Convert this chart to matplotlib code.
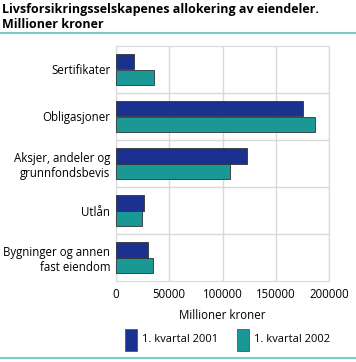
import numpy as np
import matplotlib
matplotlib.use('Agg')
import matplotlib.pyplot as plt
from matplotlib.patches import Rectangle
from matplotlib.lines import Line2D

plt.rcParams['font.family'] = ['Open Sans', 'DejaVu Sans']

kategorier = ['Sertifikater', 'Obligasjoner', 'Aksjer, andeler og\ngrunnfondsbevis',
              'Utlån', 'Bygninger og annen\nfast eiendom']
kv2001 = [17200, 176000, 123400, 25900, 29700]
kv2002 = [35300, 186600, 107500, 24000, 34700]
serier = ['1. kvartal 2001', '1. kvartal 2002']
farger = ['#1a318f', '#1a9896']

fig = plt.figure(figsize=(3.56, 3.62), dpi=100)
ax = fig.add_axes([116 / 356, 1 - 281 / 362, 213 / 356, 235 / 362])

y = np.arange(len(kategorier))
h = 0.34
ax.barh(y - h / 2, kv2001, height=h, color=farger[0], edgecolor='#333333', linewidth=0.6, zorder=3)
ax.barh(y + h / 2, kv2002, height=h, color=farger[1], edgecolor='#333333', linewidth=0.6, zorder=3)

ax.set_ylim(len(kategorier) - 0.5, -0.5)
ax.set_xlim(0, 200000)
ax.set_xticks([0, 50000, 100000, 150000, 200000])
ax.set_yticks(y)
ax.set_yticklabels(kategorier, fontsize=8.3)
ax.tick_params(axis='both', length=0, labelsize=8.3, colors='black')
ax.tick_params(axis='y', pad=4)
ax.tick_params(axis='x', pad=5)
ax.grid(axis='x', color='#d9d9d9', linewidth=1, zorder=0)
for s in np.arange(0.5, len(kategorier) - 1, 1):
    ax.axhline(s, color='#d9d9d9', linewidth=1, zorder=0)
for sp in ax.spines.values():
    sp.set_color('#d9d9d9')
ax.set_xlabel('Millioner kroner', fontsize=8.3, labelpad=6)

fig.text(2 / 356, 1 - 3 / 362, 'Livsforsikringsselskapenes allokering av eiendeler.\nMillioner kroner',
         fontsize=9.0, fontweight='bold', va='top', ha='left', linespacing=1.2)
fig.add_artist(Line2D([0, 1], [1 - 33 / 362] * 2, color='#7fc8c4', linewidth=1.5))
fig.add_artist(Line2D([0, 1], [1 - 358 / 362] * 2, color='#7fc8c4', linewidth=1.5))

# legend
for x0, tekst, f in [(125, serier[0], farger[0]), (237, serier[1], farger[1])]:
    fig.add_artist(Rectangle((x0 / 356, 1 - 351 / 362), 12 / 356, 22 / 362,
                             facecolor=f, edgecolor='#555555', linewidth=0.6))
    fig.text((x0 + 17) / 356, 1 - 340 / 362, tekst, fontsize=8.0, va='center', ha='left')

plt.savefig('out.png', dpi=100)
